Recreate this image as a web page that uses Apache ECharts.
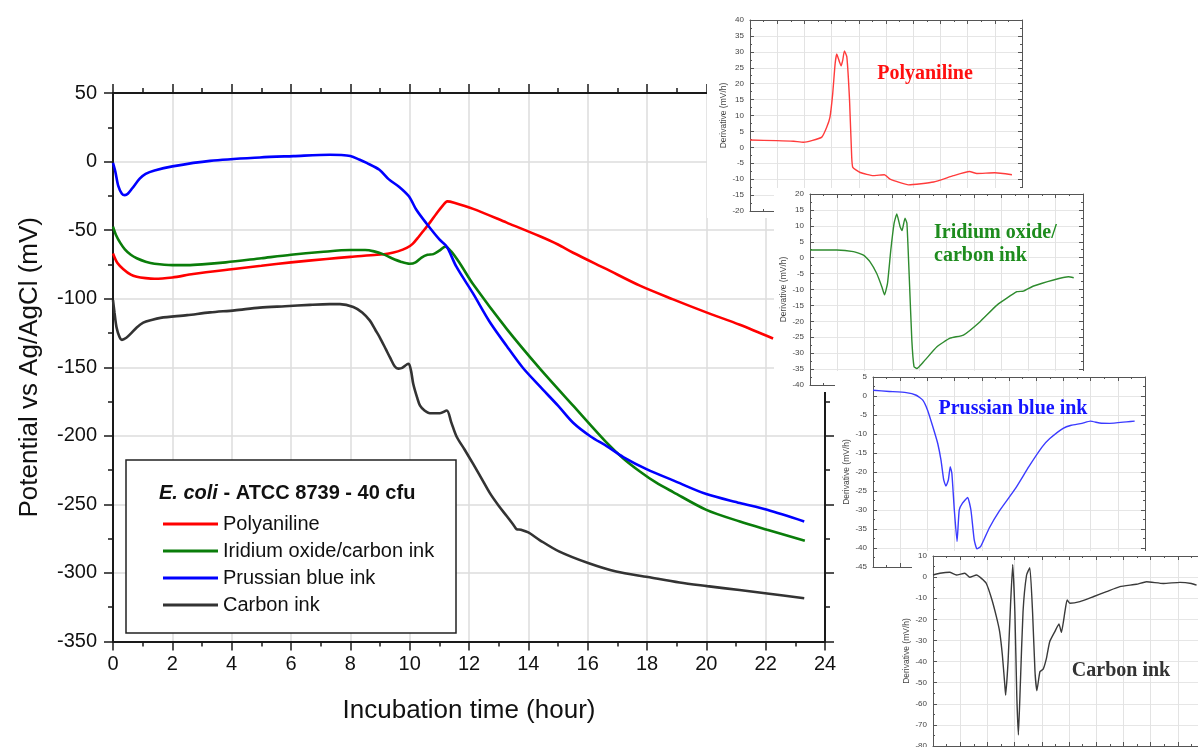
<!DOCTYPE html>
<html><head><meta charset="utf-8">
<script src="https://cdn.jsdelivr.net/npm/echarts@6/dist/echarts.min.js"></script>
<style>html,body{margin:0;padding:0;background:#fff}#c{width:1198px;height:747px}</style>
</head><body><div id="c"></div>
<script>
// ---- Main chart data: [hour, mV] ----
const seriesNames = ['Polyaniline', 'Iridium oxide/carbon ink', 'Prussian blue ink', 'Carbon ink'];
const legendTitle = ['E. coli', ' - ATCC 8739 - 40 cfu'];
const xTicks = [0, 24, 2];
const yTicks = [-350, 50, 50];

const polyaniline = [[0,-67],[0.15,-74],[0.35,-78.5],[0.6,-82.5],[0.8,-84],[1.1,-85],[1.4,-85.5],[2,-84.5],[2.7,-82],[4,-78.5],[5,-76],[6,-73.5],[7.2,-71],[8,-69.5],[8.9,-68],[9.3,-67],[9.6,-65.5],[9.9,-63],[10.1,-60],[10.3,-55],[10.5,-49.5],[10.7,-44],[10.9,-38],[11.1,-32.5],[11.27,-29],[11.5,-30],[12.14,-34.5],[13.27,-44.5],[14.39,-54.5],[15,-60.5],[15.51,-66.5],[16.64,-78.5],[17.76,-90.5],[18.88,-100.5],[20,-110],[21.13,-119],[22.25,-129]];
const iridium = [[0,-47.5],[0.1,-53.5],[0.25,-59.5],[0.4,-64],[0.6,-68],[0.8,-70.5],[1.1,-73],[1.4,-74.5],[2,-75.5],[2.5,-75.5],[3,-75],[3.8,-73.5],[5,-70.5],[6,-68],[7,-66],[8,-64.5],[8.5,-64.5],[8.8,-65.5],[9.1,-67.5],[9.4,-70.5],[9.7,-73],[10,-74.5],[10.2,-73.5],[10.4,-70],[10.6,-68],[10.8,-67.5],[11,-65],[11.2,-62],[11.4,-65.5],[11.7,-74.5],[12.14,-89.5],[13.27,-122],[14.39,-151],[15.51,-178],[16.64,-205],[17.2,-216.5],[17.76,-226],[18.3,-234],[18.88,-241],[20,-254],[21.13,-262.5],[22.05,-268.5],[23.32,-276.5]];
const prussian = [[0,-1],[0.08,-7.5],[0.18,-18],[0.3,-23.5],[0.4,-24.5],[0.5,-23.5],[0.65,-19.5],[0.9,-12.5],[1.1,-9],[1.4,-6.5],[2,-3.5],[3.27,0.5],[4.95,3],[6.08,4],[7.31,5],[7.7,4.8],[8,4],[8.3,1.5],[8.55,-1],[8.98,-6],[9.3,-13],[9.65,-18.5],[9.98,-25.5],[10.22,-35],[10.56,-45],[11.01,-57],[11.25,-62],[11.57,-76.5],[12.13,-96],[12.7,-117],[13.27,-134.5],[13.8,-150],[14.39,-164],[15,-178],[15.51,-190.5],[16.1,-200.5],[16.64,-207.5],[17.2,-215.5],[18,-224.5],[18.88,-232.5],[20,-242.5],[21.13,-249],[22.05,-254],[23.3,-262.5]];
const carbon = [[0,-101],[0.05,-110],[0.12,-121],[0.22,-128],[0.3,-130],[0.45,-128.5],[0.6,-125.5],[0.8,-121],[1.02,-117.5],[1.3,-115.5],[1.6,-114],[2.5,-112],[3.27,-110],[4.1,-108.5],[4.95,-106.5],[5.8,-105.5],[6.64,-104.5],[7.3,-104],[7.65,-104],[8.1,-106],[8.4,-110],[8.66,-116],[8.85,-123],[9,-128.5],[9.2,-137],[9.34,-143],[9.5,-149.5],[9.62,-151],[9.75,-150.5],[9.9,-148],[9.97,-147.5],[10.05,-153],[10.12,-162],[10.25,-172],[10.35,-178],[10.5,-181.5],[10.68,-183.5],[11.02,-183.5],[11.25,-181.5],[11.4,-190],[11.58,-200.5],[11.85,-210],[12.14,-220.5],[12.42,-231],[12.71,-242],[13,-251],[13.27,-258.5],[13.5,-265],[13.6,-268],[13.75,-268.5],[14,-270.5],[14.38,-276],[15.05,-284.5],[16.04,-293],[16.96,-299],[18.03,-303],[19.1,-307],[20.03,-309.6],[21.12,-312.5],[22.05,-315],[23.3,-318.5]];

// ---- Inset derivative data: [relative time division, mV/h] ----
const insetTitles = ['Polyaniline', 'Iridium oxide/\ncarbon ink', 'Prussian blue ink', 'Carbon ink'];
const insetYRanges = [[-20, 40, 5], [-40, 20, 5], [-45, 5, 5], [-80, 10, 10]];
const polyDeriv = [[0,2.3],[0.98,2.1],[1.6,1.9],[1.96,1.6],[2.27,2.1],[2.64,3.2],[2.82,6.3],[2.94,9.5],[3.04,16.8],[3.13,26.3],[3.19,29.3],[3.29,26.8],[3.35,25.6],[3.41,27.4],[3.47,30.3],[3.56,28.4],[3.66,14.7],[3.74,-3.2],[3.78,-6.3],[4.05,-7.9],[4.54,-8.9],[4.94,-8.6],[5.15,-10],[5.83,-11.8],[6.75,-10.9],[7.48,-8.9],[8.07,-7.6],[8.34,-8.2],[9.0,-8.0],[9.63,-8.6]];
const iridiumDeriv = [[0,2.4],[0.98,2.4],[1.59,1.9],[1.96,0.8],[2.2,-1.3],[2.44,-4.9],[2.63,-9.1],[2.73,-11.7],[2.84,-8],[2.96,2.4],[3.08,10.8],[3.18,13.7],[3.3,9.7],[3.37,8.5],[3.48,12.4],[3.55,10.8],[3.64,-7],[3.73,-25.9],[3.81,-34.2],[3.91,-34.8],[4.16,-32.7],[4.65,-28],[5.13,-25.3],[5.62,-24.3],[6.23,-20.1],[6.85,-14.9],[7.58,-10.7],[7.82,-10.5],[8.19,-8.9],[8.92,-7],[9.47,-6],[9.66,-6.3]];
const prussianDeriv = [[0,1.5],[0.6,1.2],[1.22,0.9],[1.59,0.2],[1.83,-1.1],[2.01,-3.8],[2.2,-8.1],[2.38,-12.5],[2.5,-16.9],[2.6,-22.1],[2.68,-23.7],[2.77,-22.1],[2.84,-18.6],[2.9,-20.4],[2.99,-30],[3.09,-38.3],[3.17,-30],[3.29,-28.2],[3.48,-26.7],[3.6,-30],[3.72,-37.8],[3.82,-40.2],[3.96,-39.6],[4.27,-34.8],[4.63,-30.4],[5.24,-24.3],[5.73,-18.6],[6.22,-13.4],[6.5,-11.2],[6.99,-8.5],[7.29,-7.7],[7.68,-7.2],[7.99,-6.6],[8.33,-7.1],[8.7,-7.2],[9.32,-6.8],[9.62,-6.6]];
const carbonDeriv = [[0,1],[0.25,1.8],[0.61,2.3],[0.86,1],[1.17,1.8],[1.35,-0.1],[1.6,1],[1.78,-0.6],[1.96,-3],[2.15,-10],[2.33,-18.7],[2.45,-25.8],[2.55,-36.9],[2.64,-51.1],[2.67,-55.9],[2.76,-40],[2.85,-13.2],[2.93,6],[3.01,-16.4],[3.08,-55.9],[3.14,-74.8],[3.21,-51.1],[3.31,-16.4],[3.44,1],[3.56,4.5],[3.66,-16.4],[3.75,-44.8],[3.82,-53.8],[3.93,-44.8],[4.05,-43.6],[4.17,-38.5],[4.29,-30.6],[4.48,-25.8],[4.63,-22.2],[4.72,-26.2],[4.85,-16.4],[4.93,-10.8],[5.03,-12.4],[5.4,-11.6],[5.89,-9.3],[6.38,-6.9],[6.87,-4.5],[7.48,-3.4],[7.85,-2.2],[8.47,-3],[9.08,-2.5],[9.5,-3],[9.69,-3.8]];

const mainColors = ['#ff0000', '#0a7d0a', '#0000ff', '#333333'];
const insetColors = ['#ff3b3b', '#2e8b2e', '#3b3bff', '#3a3a3a'];
const insetTitleColors = ['#ff1010', '#1e8c1e', '#1515ff', '#333333'];

const FONT = '"Liberation Sans", Arial, sans-serif';
const SERIF = '"Liberation Serif", "Times New Roman", serif';

const chart = echarts.init(document.getElementById('c'), null, {renderer: 'canvas'});

const grids = [
  {left: 113, top: 93, width: 712, height: 548.5},
  {left: 750, top: 20, width: 272, height: 191},
  {left: 810, top: 194, width: 273, height: 191},
  {left: 873, top: 377, width: 272, height: 190},
  {left: 933, top: 556, width: 272, height: 190}
].map(g => Object.assign({containLabel: false, outerBoundsMode: 'none'}, g));

const insetBgs = [[707, 8, 323, 210], [774, 188, 316, 204], [835, 371, 315, 181], [912, 551, 286, 196]];
const titlePos = [
  {x: 925, y: 74, align: 'center'},
  {x: 934, y: 244, align: 'left'},
  {x: 1013, y: 409, align: 'center'},
  {x: 1121, y: 671, align: 'center'}
];

const xAxes = [
  {gridIndex: 0, type: 'value', min: xTicks[0], max: xTicks[1], interval: xTicks[2],
   axisLine: {onZero: false, lineStyle: {color: '#1a1a1a', width: 2}},
   axisTick: {length: 9, lineStyle: {width: 1.5, color: '#1a1a1a'}},
   minorTick: {show: true, splitNumber: 2, length: 5, lineStyle: {width: 1.5, color: '#1a1a1a'}},
   axisLabel: {fontSize: 20, color: '#111', margin: 13, fontFamily: FONT},
   splitLine: {show: true, lineStyle: {color: '#dcdcdc', width: 1.5}},
   name: 'Incubation time (hour)', nameLocation: 'middle', nameGap: 56,
   nameTextStyle: {fontSize: 26, color: '#111', fontFamily: FONT}},
  {gridIndex: 0, type: 'value', position: 'top', min: xTicks[0], max: xTicks[1], interval: xTicks[2],
   axisLine: {onZero: false, lineStyle: {color: '#1a1a1a', width: 2}},
   axisTick: {length: 9, lineStyle: {width: 1.5, color: '#1a1a1a'}},
   minorTick: {show: true, splitNumber: 2, length: 5, lineStyle: {width: 1.5, color: '#1a1a1a'}},
   axisLabel: {show: false}, splitLine: {show: false}}
];
const yAxes = [
  {gridIndex: 0, type: 'value', min: yTicks[0], max: yTicks[1], interval: yTicks[2],
   axisLine: {onZero: false, lineStyle: {color: '#1a1a1a', width: 2}},
   axisTick: {length: 9, lineStyle: {width: 1.5, color: '#1a1a1a'}},
   minorTick: {show: true, splitNumber: 2, length: 5, lineStyle: {width: 1.5, color: '#1a1a1a'}},
   axisLabel: {fontSize: 20, color: '#111', margin: 16, fontFamily: FONT},
   splitLine: {show: true, lineStyle: {color: '#dcdcdc', width: 1.5}},
   name: 'Potential vs Ag/AgCl (mV)', nameLocation: 'middle', nameGap: 70,
   nameTextStyle: {fontSize: 26, color: '#111', fontFamily: FONT}},
  {gridIndex: 0, type: 'value', position: 'right', min: yTicks[0], max: yTicks[1], interval: yTicks[2],
   axisLine: {onZero: false, lineStyle: {color: '#1a1a1a', width: 2}},
   axisTick: {length: 9, lineStyle: {width: 1.5, color: '#1a1a1a'}},
   minorTick: {show: true, splitNumber: 2, length: 5, lineStyle: {width: 1.5, color: '#1a1a1a'}},
   axisLabel: {show: false}, splitLine: {show: false}}
];

const series = [];
[polyaniline, iridium, prussian, carbon].forEach((d, i) => {
  series.push({name: seriesNames[i], type: 'line', xAxisIndex: 0, yAxisIndex: 0, data: d,
    showSymbol: false, smooth: 0.3, z: 3, lineStyle: {color: mainColors[i], width: 2.6},
    itemStyle: {color: mainColors[i]}});
});

const graphics = [
  {type: 'rect', z: 20, shape: {x: 126, y: 460, width: 330, height: 173},
   style: {fill: '#fff', stroke: '#222', lineWidth: 1.5}},
  {type: 'text', z: 21, x: 159, y: 493,
   style: {text: '{a|' + legendTitle[0] + '}{b|' + legendTitle[1] + '}', verticalAlign: 'middle',
     rich: {a: {fontSize: 20, fontWeight: 'bold', fontStyle: 'italic', fill: '#111', fontFamily: FONT},
            b: {fontSize: 20, fontWeight: 'bold', fill: '#111', fontFamily: FONT}}}}
];

const insetData = [polyDeriv, iridiumDeriv, prussianDeriv, carbonDeriv];
insetData.forEach((d, k) => {
  const gi = k + 1;
  const zb = 30 + k * 10;
  const [ymin, ymax, yint] = insetYRanges[k];
  const b = insetBgs[k];
  graphics.push({type: 'rect', z: zb, shape: {x: b[0], y: b[1], width: b[2], height: b[3]},
    style: {fill: '#fff', stroke: null}});
  const common = {gridIndex: gi, type: 'value', z: zb + 1,
    axisLine: {onZero: false, lineStyle: {color: '#555', width: 1}},
    axisTick: {inside: true, length: 4, lineStyle: {color: '#555', width: 1}},
    minorTick: {show: true, splitNumber: 2, length: 2, lineStyle: {color: '#555'}}};
  xAxes.push(Object.assign({}, common, {min: 0, max: 10, interval: 1, axisLabel: {show: false},
    splitLine: {show: true, lineStyle: {color: '#e3e3e3', width: 1}}}));
  xAxes.push(Object.assign({}, common, {position: 'top', min: 0, max: 10, interval: 1,
    axisLabel: {show: false}, splitLine: {show: false}}));
  yAxes.push(Object.assign({}, common, {min: ymin, max: ymax, interval: yint,
    axisLabel: {fontSize: 8, color: '#444', margin: 6, fontFamily: FONT},
    splitLine: {show: true, lineStyle: {color: '#e6e6e6', width: 1}},
    name: 'Derivative (mV/h)', nameLocation: 'middle', nameGap: 22,
    nameTextStyle: {fontSize: 8.5, color: '#444', fontFamily: FONT}}));
  yAxes.push(Object.assign({}, common, {position: 'right', min: ymin, max: ymax, interval: yint,
    axisLabel: {show: false}, splitLine: {show: false}}));
  series.push({name: 'deriv' + k, type: 'line', xAxisIndex: 2 + k * 2, yAxisIndex: 2 + k * 2, data: d,
    showSymbol: false, smooth: 0.15, z: zb + 2, lineStyle: {color: insetColors[k], width: 1.4},
    itemStyle: {color: insetColors[k]}});
  const tp = titlePos[k];
  graphics.push({type: 'text', z: zb + 3, x: tp.x, y: tp.y,
    style: {text: insetTitles[k], align: tp.align, verticalAlign: 'middle', fontSize: 20,
      lineHeight: 23, fontWeight: 'bold', fontFamily: SERIF, fill: insetTitleColors[k]}});
});

chart.setOption({
  animation: false,
  backgroundColor: '#fff',
  grid: grids,
  xAxis: xAxes,
  yAxis: yAxes,
  legend: {data: seriesNames, orient: 'vertical', left: 158, top: 509, z: 22,
    icon: 'rect', itemWidth: 55, itemHeight: 3, itemGap: 7,
    textStyle: {fontSize: 20, color: '#111', fontFamily: FONT, lineHeight: 20}},
  graphic: {elements: graphics},
  series: series
});
</script></body></html>
